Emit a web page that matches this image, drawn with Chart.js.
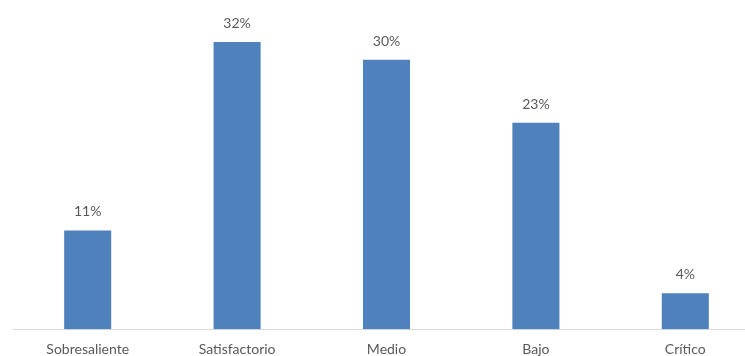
<!DOCTYPE html>
<html>
<head>
<meta charset="utf-8">
<script src="https://cdn.jsdelivr.net/npm/chart.js@4"></script>
<style>
  html, body { margin: 0; padding: 0; background: #fff; overflow: hidden; }
  #wrap { width: 760px; height: 356px; }
</style>
</head>
<body>
<div id="wrap"><canvas id="chart-bar"></canvas></div>
<script>
// Performance levels (share of students)
const categories = ["Sobresaliente", "Satisfactorio", "Medio", "Bajo", "Crítico"];
const shares = [11, 32, 30, 23, 4];

const barColor = "#4f81bd";
const textColor = "#595959";
const baseFont = { family: "Lato, 'Open Sans', sans-serif", size: 14 };

// Draw the % value above each bar
const valueLabels = {
  id: "valueLabels",
  afterDatasetsDraw(chart) {
    const { ctx } = chart;
    const meta = chart.getDatasetMeta(0);
    ctx.save();
    ctx.fillStyle = textColor;
    ctx.font = `14px ${baseFont.family}`;
    ctx.textAlign = "center";
    ctx.textBaseline = "alphabetic";
    meta.data.forEach((bar, i) => {
      ctx.fillText(shares[i] + "%", bar.x, bar.y - 14);
    });
    ctx.restore();
  }
};

new Chart(document.getElementById("chart-bar"), {
  type: "bar",
  data: {
    labels: categories,
    datasets: [{
      data: shares,
      backgroundColor: barColor,
      barPercentage: 0.42,
      categoryPercentage: 0.75
    }]
  },
  options: {
    responsive: true,
    maintainAspectRatio: false,
    animation: false,
    layout: { padding: { top: 6, left: 13, right: 0, bottom: -14 } },
    plugins: { legend: { display: false }, tooltip: { enabled: false } },
    scales: {
      x: {
        grid: { display: false, drawTicks: false },
        border: { display: true, color: "#d9d9d9", width: 1 },
        ticks: { color: textColor, font: baseFont, padding: 12 }
      },
      y: { display: false, min: 0, max: 36 }
    }
  },
  plugins: [valueLabels]
});
</script>
</body>
</html>
